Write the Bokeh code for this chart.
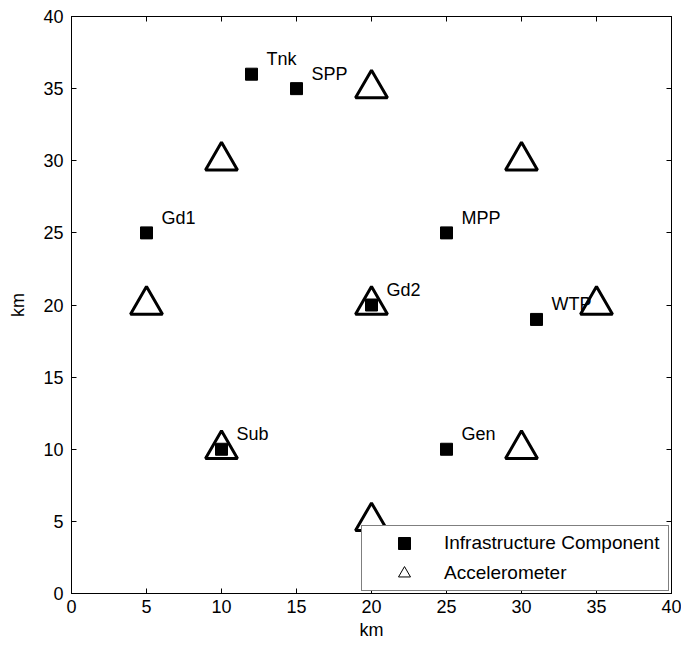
from bokeh.plotting import figure
from bokeh.models import (ColumnDataSource, LinearAxis, FixedTicker, Range1d,
                          Legend, LegendItem, CustomJSTickFormatter)
from bokeh.core.properties import value
from bokeh.embed import file_html
from bokeh.resources import INLINE

# Infrastructure components
comp_names = ["Tnk", "SPP", "Gd1", "MPP", "Gd2", "WTP", "Sub", "Gen"]
comp_x = [12, 15, 5, 25, 20, 31, 10, 25]
comp_y = [36, 35, 25, 25, 20, 19, 10, 10]

# Accelerometers
acc_x = [20, 10, 30, 5, 20, 35, 10, 30, 20]
acc_y = [35, 30, 30, 20, 20, 20, 10, 10, 5]

ticks = [0, 5, 10, 15, 20, 25, 30, 35, 40]

FONT = "Liberation Sans"
FS = "18px"

p = figure(width=681, height=646, output_backend="svg", toolbar_location=None,
           x_range=Range1d(0, 40), y_range=Range1d(0, 40),
           min_border_left=71, min_border_right=10, min_border_top=16,
           min_border_bottom=53, x_axis_label="km", y_axis_label="km")
p.grid.visible = False
p.outline_line_color = "black"
p.outline_line_width = 1
p.background_fill_color = "white"
p.border_fill_color = "white"

for ax in (p.xaxis[0], p.yaxis[0]):
    ax.ticker = FixedTicker(ticks=ticks)
    ax.major_tick_in = 5
    ax.major_tick_out = 0
    ax.minor_tick_line_color = None
    ax.axis_line_color = "black"
    ax.major_tick_line_color = "black"
    ax.major_label_text_font = FONT
    ax.major_label_text_font_size = FS
    ax.major_label_text_color = "black"
    ax.axis_label_text_font = FONT
    ax.axis_label_text_font_size = FS
    ax.axis_label_text_font_style = "normal"
    ax.axis_label_text_color = "black"
p.yaxis[0].major_label_standoff = 8
p.yaxis[0].axis_label_standoff = 12
p.xaxis[0].major_label_standoff = 6
p.xaxis[0].axis_label_standoff = 4

for loc in ("above", "right"):
    ax = LinearAxis(ticker=FixedTicker(ticks=ticks), major_tick_in=5,
                    major_tick_out=0, minor_tick_line_color=None,
                    formatter=CustomJSTickFormatter(code="return ''"),
                    axis_line_color="black", major_label_standoff=0)
    p.add_layout(ax, loc)

src_c = ColumnDataSource(dict(x=comp_x, y=comp_y, name=comp_names))
src_a = ColumnDataSource(dict(x=acc_x, y=acc_y))

p.scatter("x", "y", source=src_a, marker="triangle", size=32,
          fill_color=None, line_color="black", line_width=3)
p.scatter("x", "y", source=src_c, marker="square", size=12,
          fill_color="black", line_color="black")
p.text("x", "y", text="name", source=src_c, x_offset=15, y_offset=-15,
       text_font=value(FONT), text_font_size=FS, text_baseline="middle",
       text_align="left", text_color="black")

# legend-only renderers (not drawn in the plot area)
nan = float("nan")
empty = ColumnDataSource(dict(x=[nan], y=[nan]))
lg_sq = p.scatter("x", "y", source=empty, marker="square", fill_color="black",
                  line_color="black")
lg_tr = p.scatter("x", "y", source=empty, marker="triangle", fill_color=None,
                  line_color="black", line_width=1)

legend = Legend(items=[LegendItem(label="Infrastructure Component", renderers=[lg_sq], index=0),
                       LegendItem(label="Accelerometer", renderers=[lg_tr], index=0)],
                location="bottom_right", margin=2, padding=2, spacing=0,
                glyph_width=80, glyph_height=30, label_height=30,
                label_width=222, label_standoff=0,
                label_text_font=FONT, label_text_font_size="19px",
                label_text_color="black",
                border_line_color="black", border_line_width=1,
                background_fill_color="white", background_fill_alpha=1)
p.add_layout(legend, "center")

open("out.html", "w").write(file_html(p, INLINE))
